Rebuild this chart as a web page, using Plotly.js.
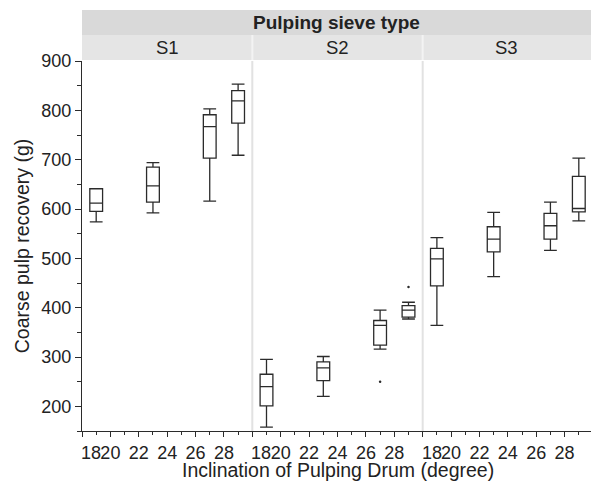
<!DOCTYPE html>
<html>
<head>
<meta charset="utf-8">
<script src="https://cdn.plot.ly/plotly-3.0.1.min.js"></script>
<style>
  html, body { margin: 0; padding: 0; background: #fff; }
  #chart { width: 591px; height: 481px; }
</style>
</head>
<body>
<div id="chart"></div>
<script>
// Coarse pulp recovery by drum inclination, one panel per sieve type
const sieveTypes = ['S1', 'S2', 'S3'];
const inclination = [19, 23, 27, 29];
const xTickVals = [18, 20, 22, 24, 26, 28];
const xTickText = ['', '20', '22', '24', '26', '28'];
const yTickVals = [200, 300, 400, 500, 600, 700, 800, 900];

// box statistics (g), one row per sieve type, one column per inclination
const lowerWhisker = [[574, 592, 616, 709], [158, 220, 316, 377], [364, 463, 516, 576]];
const q1           = [[595, 614, 703, 774], [201, 252, 324, 381], [444, 513, 539, 594]];
const median       = [[612, 647, 767, 819], [240, 278, 364, 395], [499, 539, 566, 601]];
const q3           = [[641, 685, 791, 840], [265, 290, 374, 404], [520, 564, 591, 666]];
const upperWhisker = [[641, 694, 803, 853], [295, 301, 395, 411], [542, 593, 614, 703]];

// individual outlying observations
const outlierSieve = ['S2', 'S2'];
const outlierX = [27, 29];
const outlierY = [250, 442];

// ---- layout geometry ----
const W = 591, H = 481;
const M = { l: 82, r: 0, t: 61, b: 50 };
const plotW = W - M.l - M.r, plotH = H - M.t - M.b;
const panelPx = [170.3, 170.4];                   // widths of first two panels
const pxPerUnit = panelPx[0] / 12;
const b1 = panelPx[0] / plotW, b2 = (panelPx[0] + panelPx[1]) / plotW;
const domains = [[0, b1], [b1, b2], [b2, 1]];
const lastRange = 18 + (plotW - panelPx[0] - panelPx[1]) / pxPerUnit;
const ranges = [[18, 30], [18, 30], [18, lastRange]];
const stripH = 25 / plotH, gap = 1 / plotH;

const ink = '#2b2b2b';
const text = '#222';
const font = 'Liberation Sans, Arial, sans-serif';
const axId = i => (i === 0 ? 'x' : 'x' + (i + 1));

const traces = sieveTypes.map((s, i) => ({
  type: 'box',
  name: s,
  xaxis: axId(i), yaxis: 'y',
  x: inclination,
  q1: q1[i], median: median[i], q3: q3[i],
  lowerfence: lowerWhisker[i], upperfence: upperWhisker[i],
  width: 0.9,
  whiskerwidth: 1,
  fillcolor: 'rgba(255,255,255,0)',
  line: { color: ink, width: 1.3 },
  boxpoints: false,
  hoverinfo: 'skip',
  showlegend: false
}));

sieveTypes.forEach((s, i) => {
  const xs = [], ys = [];
  outlierSieve.forEach((o, k) => { if (o === s) { xs.push(outlierX[k]); ys.push(outlierY[k]); } });
  if (xs.length) traces.push({
    type: 'scatter', mode: 'markers',
    xaxis: axId(i), yaxis: 'y',
    x: xs, y: ys,
    marker: { color: ink, size: 2.5 },
    hoverinfo: 'skip', showlegend: false
  });
});

const layout = {
  width: W, height: H,
  margin: M,
  paper_bgcolor: '#fff', plot_bgcolor: '#fff',
  font: { family: font, color: text, size: 18 },
  showlegend: false,
  yaxis: {
    anchor: 'x', domain: [0, 1],
    range: [150, 900],
    tickmode: 'array', tickvals: yTickVals,
    ticks: 'outside', ticklen: 6, tickcolor: ink, tickwidth: 1,
    minor: { tickmode: 'linear', tick0: 150, dtick: 50, ticks: 'outside', ticklen: 4, tickcolor: ink, showgrid: false },
    showline: true, linecolor: ink, linewidth: 1,
    showgrid: false, zeroline: false,
    tickfont: { size: 18, color: text },
    title: { text: 'Coarse pulp recovery (g)', font: { size: 19.5, color: text }, standoff: 6 }
  },
  shapes: [],
  annotations: []
};

sieveTypes.forEach((s, i) => {
  const key = i === 0 ? 'xaxis' : 'xaxis' + (i + 1);
  layout[key] = {
    anchor: 'y', domain: domains[i], range: ranges[i],
    tickmode: 'array', tickvals: xTickVals, ticktext: xTickText,
    ticks: 'outside', ticklen: 5, tickcolor: ink, tickwidth: 1,
    minor: { tickmode: 'linear', tick0: 18, dtick: 1, ticks: 'outside', ticklen: 3, tickcolor: ink, showgrid: false },
    showline: true, linecolor: ink, linewidth: 1,
    showgrid: false, zeroline: false,
    tickfont: { size: 18, color: text }
  };
  // leftmost tick label sits inside its panel
  layout.annotations.push({
    xref: axId(i), yref: 'paper', x: 18, y: 0,
    xanchor: 'left', yanchor: 'top', yshift: -10, xshift: -3,
    text: '18', showarrow: false, font: { size: 18, color: text }
  });
  // strip with the sieve type
  layout.shapes.push({
    type: 'rect', xref: 'paper', yref: 'paper',
    x0: domains[i][0], x1: domains[i][1], y0: 1 + gap, y1: 1 + gap + stripH,
    fillcolor: '#e5e5e5', line: { width: 0 }, layer: 'below'
  });
  layout.annotations.push({
    xref: 'paper', yref: 'paper',
    x: (domains[i][0] + domains[i][1]) / 2, y: 1 + gap + stripH / 2,
    xanchor: 'center', yanchor: 'middle',
    text: s, showarrow: false, font: { size: 18.5, color: text }
  });
});

// shared x-axis title under the middle panel
layout.annotations.push({
  xref: 'paper', yref: 'paper', x: (b1 + b2) / 2, y: 0,
  xanchor: 'center', yanchor: 'top', yshift: -26,
  text: 'Inclination of Pulping Drum (degree)', showarrow: false,
  font: { size: 19.5, color: text }
});

// panel dividers
[b1, b2].forEach(b => {
  layout.shapes.push({
    type: 'line', xref: 'paper', yref: 'paper',
    x0: b, x1: b, y0: 0, y1: 1,
    line: { color: '#e2e2e2', width: 2 }, layer: 'below'
  });
  layout.shapes.push({
    type: 'line', xref: 'paper', yref: 'paper',
    x0: b, x1: b, y0: 1 + gap, y1: 1 + gap + stripH,
    line: { color: '#f3f3f3', width: 2 }
  });
});

// overall header band
layout.shapes.push({
  type: 'rect', xref: 'paper', yref: 'paper',
  x0: 0, x1: 1, y0: 1 + gap + stripH, y1: 1 + gap + 2 * stripH,
  fillcolor: '#d9d9d9', line: { width: 0 }, layer: 'below'
});
layout.annotations.push({
  xref: 'paper', yref: 'paper', x: 0.5, y: 1 + gap + 1.5 * stripH,
  xanchor: 'center', yanchor: 'middle',
  text: '<b>Pulping sieve type</b>', showarrow: false, font: { size: 19, color: text }
});

Plotly.newPlot('chart', traces, layout, { displayModeBar: false, staticPlot: true });
</script>
</body>
</html>
